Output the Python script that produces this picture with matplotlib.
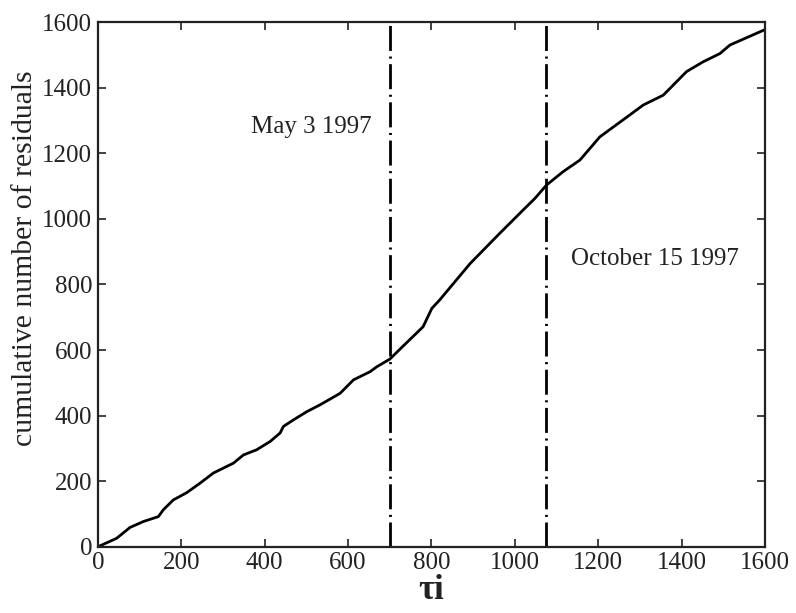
import matplotlib
matplotlib.use('Agg')
import matplotlib.pyplot as plt

plt.rcParams['font.family'] = ['Liberation Serif', 'DejaVu Serif']
plt.rcParams['lines.scale_dashes'] = False

# cumulative residual count against tau_i
tau = [0, 45, 77, 109, 145, 157, 181, 213, 245, 277, 325, 349, 381, 413, 437,
       445, 469, 501, 533, 581, 613, 653, 669, 700, 724, 780, 801, 820, 893,
       964, 1024, 1048, 1076, 1116, 1156, 1204, 1276, 1308, 1356, 1412, 1452,
       1492, 1516, 1600]
cum_resid = [0, 26, 59, 77, 92, 113, 143, 165, 194, 225, 255, 280, 296, 321,
             347, 367, 387, 412, 433, 468, 509, 534, 549, 572, 602, 671, 727,
             753, 864, 956, 1032, 1062, 1103, 1144, 1179, 1250, 1317, 1347,
             1377, 1449, 1479, 1504, 1530, 1577]

events = [700, 1076]
event_labels = ['May 3 1997', 'October 15 1997']
label_pos = [(657, 1280, 'right'), (1135, 878, 'left')]

ink = '#222222'

fig = plt.figure(figsize=(7.96, 6.13), dpi=100)
ax = fig.add_axes([0.123, 0.108, 0.838, 0.856])

ax.plot(tau, cum_resid, color='black', linewidth=2.0)

for xe in events:
    ln = ax.axvline(xe, color='black', linewidth=2.0)
    ln.set_dashes((18, 4, 1.5, 4))

for txt, (xt, yt, ha) in zip(event_labels, label_pos):
    ax.text(xt, yt, txt, ha=ha, va='center', fontsize=18, color=ink)

ax.set_xlim(0, 1600)
ax.set_ylim(0, 1600)
ax.set_xticks(range(0, 1601, 200))
ax.set_yticks(range(0, 1601, 200))
ax.tick_params(direction='in', top=True, right=True, length=6, width=1.2,
               labelsize=18, labelcolor=ink, color=ink, pad=4)
for sp in ax.spines.values():
    sp.set_linewidth(1.6)
    sp.set_color(ink)

ax.set_ylabel('cumulative number of residuals', fontsize=21.4, color=ink)
ax.yaxis.set_label_coords(-0.09, 0.55)
ax.set_xlabel('τi', fontsize=25, fontweight='bold', color=ink, labelpad=0)

fig.savefig('out.png', dpi=100)
